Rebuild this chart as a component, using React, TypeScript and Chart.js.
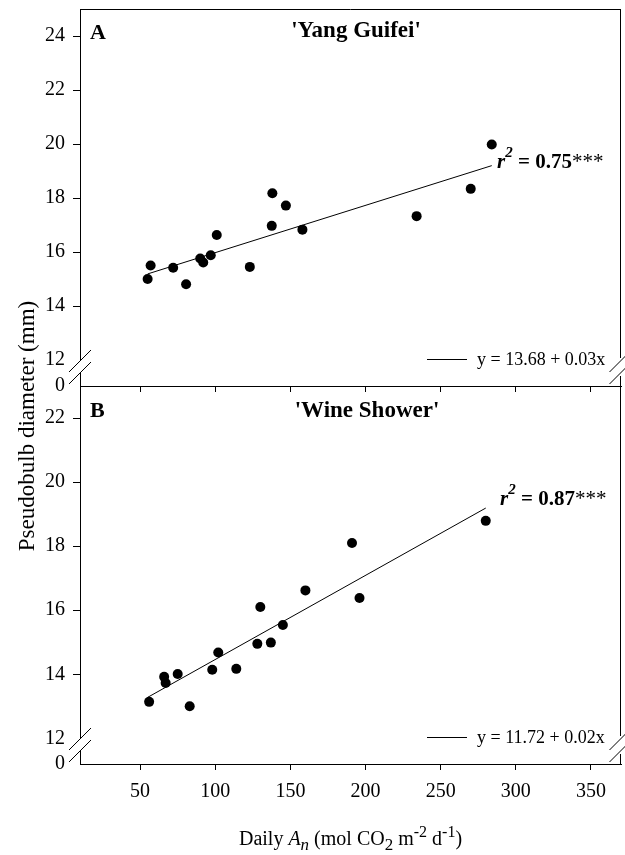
import React, { useEffect, useRef } from 'react';
import { Chart, registerables } from 'chart.js';

Chart.register(...registerables);

const FONT = "'Liberation Serif', 'Times New Roman', Times, serif";

// ---- Data ----
const xTickValues = [50, 100, 150, 200, 250, 300, 350];
const yTicksYangGuifei = [12, 14, 16, 18, 20, 22, 24];
const yTicksWineShower = [12, 14, 16, 18, 20, 22];

const anYangGuifei = [55, 57, 72, 80.6, 90, 92, 97, 101, 123, 138, 137.6, 147, 158, 234, 270, 284];
const diamYangGuifei = [15.0, 15.5, 15.42, 14.81, 15.76, 15.61, 15.88, 16.63, 15.45, 18.18, 16.97, 17.72, 16.83, 17.33, 18.34, 19.98];
const fitXYangGuifei = [55, 284];
const fitYYangGuifei = [15.19, 19.2];

const anWineShower = [56, 66, 67, 75, 83, 98, 102, 114, 128, 130, 137, 145, 160, 191, 196, 280];
const diamWineShower = [13.14, 13.92, 13.73, 14.01, 13.0, 14.14, 14.68, 14.17, 14.95, 16.1, 14.99, 15.54, 16.62, 18.1, 16.38, 18.79];
const fitXWineShower = [55, 280];
const fitYWineShower = [13.28, 19.19];

const panelLetters = ['A', 'B'];
const panelTitles = ["'Yang Guifei'", "'Wine Shower'"];
const r2Values = ['0.75', '0.87'];
const equations = ['y = 13.68 + 0.03x', 'y = 11.72 + 0.02x'];
const xAxisTitle = ['Daily ', 'A', 'n', ' (mol CO', '2', ' m', '-2', ' d', '-1', ')'];
const yAxisTitle = 'Pseudobulb diameter (mm)';

type Seg = { t: string; font: string; dy?: number };

function drawRich(ctx: CanvasRenderingContext2D, segs: Seg[], x: number, y: number, align: 'left' | 'center') {
  ctx.save();
  ctx.fillStyle = '#000';
  ctx.textBaseline = 'alphabetic';
  ctx.textAlign = 'left';
  let total = 0;
  for (const s of segs) {
    ctx.font = s.font;
    total += ctx.measureText(s.t).width;
  }
  let cx = align === 'center' ? x - total / 2 : x;
  for (const s of segs) {
    ctx.font = s.font;
    ctx.fillText(s.t, cx, y + (s.dy || 0));
    cx += ctx.measureText(s.t).width;
  }
  ctx.restore();
}

function seg(ctx: CanvasRenderingContext2D, x1: number, y1: number, x2: number, y2: number) {
  ctx.beginPath();
  ctx.moveTo(x1, y1);
  ctx.lineTo(x2, y2);
  ctx.stroke();
}

function makeConfig(p: number): any {
  const isB = p === 1;
  const xs = isB ? anWineShower : anYangGuifei;
  const ys = isB ? diamWineShower : diamYangGuifei;
  const fx = isB ? fitXWineShower : fitXYangGuifei;
  const fy = isB ? fitYWineShower : fitYYangGuifei;
  const yTicks = isB ? yTicksWineShower : yTicksYangGuifei;
  const yMin = isB ? 11.2 : 11.04;
  const yMax = isB ? 23 : 25;

  const panelPlugin = {
    id: 'panelDecor' + p,
    afterDraw(chart: any) {
      const ctx: CanvasRenderingContext2D = chart.ctx;
      const { left, right, top, bottom } = chart.chartArea;
      const R = Math.round(right) - 0.5;
      const T = Math.round(top) + 0.5;
      ctx.save();
      ctx.strokeStyle = '#000';
      ctx.lineWidth = 1;
      const c1 = bottom - 25;
      const c2 = bottom - 13;
      // frame
      if (!isB) seg(ctx, left, T, R + 0.5, T);
      seg(ctx, R, top, R, c1 - 3);
      seg(ctx, R, c2 + 3, R, bottom);
      // axis breaks
      ctx.fillStyle = '#fff';
      ctx.fillRect(left - 1.5, c1, 3.5, c2 - c1);
      for (const x0 of [left, R]) {
        for (const c of [c1, c2]) seg(ctx, x0 - 11, c + 11, x0 + 11, c - 11);
      }
      // panel letter
      const letterBase = isB ? top + 31 : top + 30;
      drawRich(ctx, [{ t: panelLetters[p], font: `bold 22px ${FONT}` }], left + 10, letterBase, 'left');
      // title
      drawRich(ctx, [{ t: panelTitles[p], font: `bold 23px ${FONT}` }], isB ? 367 : 356, isB ? top + 31 : top + 28, 'center');
      // r^2
      const rBase = isB ? 505 : 168;
      drawRich(ctx, [
        { t: 'r', font: `italic bold 21px ${FONT}` },
        { t: '2', font: `italic bold 15px ${FONT}`, dy: -11 },
        { t: ' = ' + r2Values[p], font: `bold 21px ${FONT}` },
        { t: '***', font: `21px ${FONT}` },
      ], isB ? 500 : 497, rBase, 'left');
      // regression legend
      const ly = bottom - 27;
      seg(ctx, 427, ly + 0.5, 467, ly + 0.5);
      drawRich(ctx, [{ t: equations[p], font: `18px ${FONT}` }], 477, ly + 6, 'left');

      if (isB) {
        const xSegs: Seg[] = [
          { t: xAxisTitle[0], font: `20px ${FONT}` },
          { t: xAxisTitle[1], font: `italic 20px ${FONT}` },
          { t: xAxisTitle[2], font: `italic 17px ${FONT}`, dy: 5 },
          { t: xAxisTitle[3], font: `20px ${FONT}` },
          { t: xAxisTitle[4], font: `17px ${FONT}`, dy: 5 },
          { t: xAxisTitle[5], font: `20px ${FONT}` },
          { t: xAxisTitle[6], font: `16px ${FONT}`, dy: -8 },
          { t: xAxisTitle[7], font: `20px ${FONT}` },
          { t: xAxisTitle[8], font: `16px ${FONT}`, dy: -8 },
          { t: xAxisTitle[9], font: `20px ${FONT}` },
        ];
        drawRich(ctx, xSegs, (left + right) / 2, 845, 'center');
        ctx.save();
        ctx.translate(34, 426);
        ctx.rotate(-Math.PI / 2);
        ctx.fillStyle = '#000';
        ctx.font = `23px ${FONT}`;
        ctx.textAlign = 'center';
        ctx.textBaseline = 'alphabetic';
        ctx.fillText(yAxisTitle, 0, 0);
        ctx.restore();
      }
      ctx.restore();
    },
  };

  return {
    type: 'scatter',
    data: {
      datasets: [
        {
          type: 'line',
          data: fx.map((x, i) => ({ x, y: fy[i] })),
          borderColor: '#000',
          borderWidth: 1,
          pointRadius: 0,
          fill: false,
          tension: 0,
          order: 2,
        },
        {
          type: 'scatter',
          data: xs.map((x, i) => ({ x, y: ys[i] })),
          backgroundColor: '#000',
          borderColor: '#000',
          borderWidth: 0,
          pointRadius: 5,
          order: 1,
        },
      ],
    },
    options: {
      responsive: false,
      maintainAspectRatio: false,
      animation: false,
      events: [],
      layout: {
        padding: isB ? { top: 386, right: 4, left: 0, bottom: 0 } : { top: 9, right: 4, left: 0, bottom: 0 },
        autoPadding: false,
      },
      plugins: { legend: { display: false }, tooltip: { enabled: false }, title: { display: false } },
      scales: {
        x: {
          type: 'linear',
          min: 10,
          max: 370,
          afterBuildTicks: (s: any) => {
            s.ticks = xTickValues.map((v) => ({ value: v }));
          },
          ticks: {
            display: isB,
            color: '#000',
            font: { family: FONT, size: 20 },
            padding: 10,
            maxRotation: 0,
            autoSkip: false,
          },
          grid: { drawOnChartArea: false, drawTicks: true, tickLength: 6, tickColor: '#000', tickWidth: 1 },
          border: { display: true, color: '#000', width: 1 },
          afterFit: (s: any) => {
            s.height = isB ? 91 : 14;
            s.paddingLeft = 0;
            s.paddingRight = 0;
          },
        },
        y: {
          type: 'linear',
          min: yMin,
          max: yMax,
          afterBuildTicks: (s: any) => {
            s.ticks = [yMin, ...yTicks].map((v) => ({ value: v }));
          },
          ticks: {
            color: '#000',
            font: { family: FONT, size: 20 },
            padding: 8,
            autoSkip: false,
            callback: (v: any, i: number) => (i === 0 ? '0' : String(v)),
          },
          grid: {
            drawOnChartArea: false,
            drawTicks: true,
            tickLength: 7,
            tickWidth: 1,
            tickColor: (c: any) => (c.index < 2 ? 'rgba(0,0,0,0)' : '#000'),
          },
          border: { display: true, color: '#000', width: 1 },
          afterFit: (s: any) => {
            s.width = 80;
            s.paddingTop = 0;
            s.paddingBottom = 0;
          },
        },
      },
    },
    plugins: [panelPlugin],
  };
}

export default function App() {
  const refA = useRef<HTMLCanvasElement>(null);
  const refB = useRef<HTMLCanvasElement>(null);
  useEffect(() => {
    document.body.style.margin = '0';
    const cB = new Chart(refB.current as HTMLCanvasElement, makeConfig(1));
    const cA = new Chart(refA.current as HTMLCanvasElement, makeConfig(0));
    return () => {
      cA.destroy();
      cB.destroy();
    };
  }, []);
  return (
    <div style={{ position: 'relative', width: 625, height: 855, background: '#fff' }}>
      <canvas ref={refB} width={625} height={855} style={{ position: 'absolute', left: 0, top: 0 }} />
      <canvas ref={refA} width={625} height={400} style={{ position: 'absolute', left: 0, top: 0 }} />
    </div>
  );
}
